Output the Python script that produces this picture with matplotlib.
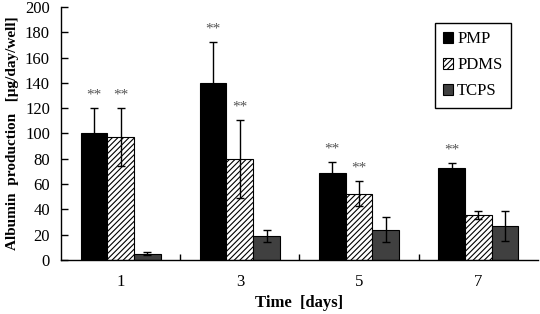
import matplotlib.pyplot as plt
import numpy as np

days = ['1', '3', '5', '7']
series = ['PMP', 'PDMS', 'TCPS']
pmp = [100, 140, 68.5, 72.5]
pmp_err = [20, 32, 9, 4]
pdms = [97, 80, 52.5, 35.5]
pdms_err = [23, 31, 10, 3]
tcps = [5, 19, 24, 27]
tcps_err = [1, 5, 10, 12]
# significance marks ("**") per series and day
pmp_sig = [True, True, True, True]
pdms_sig = [True, True, True, False]
tcps_sig = [False, False, False, False]

plt.rcParams['font.family'] = ['Liberation Serif', 'DejaVu Serif']
plt.rcParams['hatch.linewidth'] = 0.8

fig = plt.figure(figsize=(5.4, 3.14), dpi=100)
ax = fig.add_axes([0.113, 0.172, 0.883, 0.806])

x = np.arange(len(days))
w = 0.224
values = [pmp, pdms, tcps]
errs = [pmp_err, pdms_err, tcps_err]
sigs = [pmp_sig, pdms_sig, tcps_sig]
colors = ['black', 'white', '#404040']
hatches = [None, '//////', None]

for i, name in enumerate(series):
    pos = x + (i - 1) * w
    ax.bar(pos, values[i], w, color=colors[i], edgecolor='black', hatch=hatches[i],
           linewidth=0.8, label=name, zorder=2)
    ax.errorbar(pos, values[i], yerr=errs[i], fmt='none', ecolor='black',
                elinewidth=1, capsize=3, capthick=1, zorder=3)
    for p, v, e, s in zip(pos, values[i], errs[i], sigs[i]):
        if s:
            ax.text(p, v + e + 5, '**', ha='center', va='bottom', fontsize=11, color='#555555')

ax.set_xlim(-0.5, len(days) - 0.5)
ax.set_ylim(0, 200)
ax.set_yticks(range(0, 201, 20))
ax.set_xticks(x)
ax.set_xticklabels(days)
ax.set_xticks(x[1:] - 0.5, minor=True)
ax.tick_params(axis='x', which='major', length=0, pad=10, labelsize=12)
ax.tick_params(axis='x', which='minor', direction='in', length=4, width=1)
ax.tick_params(axis='y', direction='in', length=5, width=1, labelsize=12, pad=8)
ax.spines['top'].set_visible(False)
ax.spines['right'].set_visible(False)
ax.spines['left'].set_linewidth(1)
ax.spines['bottom'].set_linewidth(1)

ax.set_xlabel('Time  [days]', fontweight='bold', fontsize=12, labelpad=4)
ax.set_ylabel('Albumin  production   [\u03bcg/day/well]', fontweight='bold', fontsize=11, labelpad=4)

leg = ax.legend(loc='upper right', bbox_to_anchor=(0.943, 0.937), borderaxespad=0,
                fancybox=False, edgecolor='black',
                fontsize=12, handlelength=0.6, handleheight=0.6, handletextpad=0.25,
                labelspacing=0.6, borderpad=0.5, framealpha=1)
leg.get_frame().set_linewidth(1)

plt.savefig('out.png', dpi=100)
plt.close()
